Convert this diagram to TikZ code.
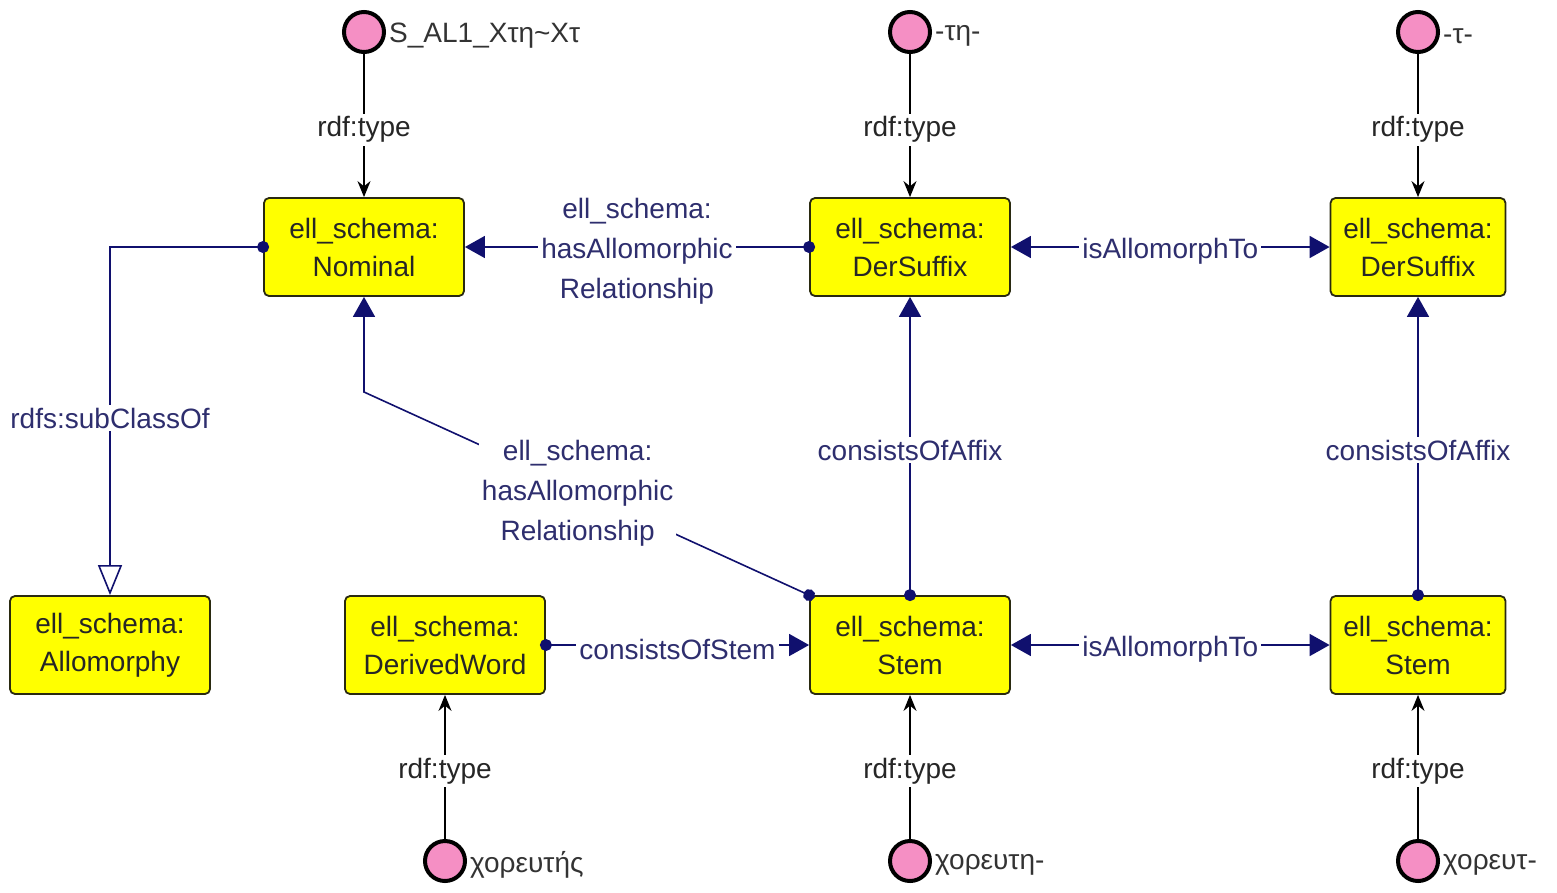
\documentclass[tikz,border=0pt]{standalone}
\usepackage{fontspec}
\setmainfont{Liberation Sans}
\usetikzlibrary{arrows.meta}
\definecolor{clsyellow}{HTML}{FFFF00}
\definecolor{clsborder}{HTML}{2A2A10}
\definecolor{propnavy}{HTML}{10106E}
\definecolor{proptext}{HTML}{2E2E6E}
\definecolor{indpink}{HTML}{F58FC4}
\tikzset{
  cls/.style={draw=clsborder, fill=clsyellow, rounded corners=5pt, line width=1.8pt,
    minimum width=200pt, minimum height=98pt, align=center, inner sep=2pt,
    text=black!85, font=\fontsize{28}{38}\selectfont},
  ind/.style={circle, draw=black, fill=indpink, line width=4pt, minimum size=40pt, inner sep=0pt},
  indlbl/.style={anchor=west, inner sep=3pt, yshift=-4pt, text=black!80, font=\fontsize{28}{34}\selectfont},
  typeedge/.style={draw=black, line width=1.6pt, -{Stealth[length=16pt,width=13pt]}},
  typelbl/.style={fill=white, inner sep=3pt, yshift=-4pt, text=black!85, font=\fontsize{28}{34}\selectfont},
  prop/.style={draw=propnavy, line width=1.6pt},
  dotarrow/.style={prop, shorten <=-6pt,
    {Circle[length=12pt]}-{Triangle[length=20pt,width=22pt]}},
  twoarrow/.style={prop, {Triangle[length=20pt,width=22pt]}-{Triangle[length=20pt,width=22pt]}},
  plbl/.style={fill=white, inner sep=3pt, yshift=-4pt, align=center, text=proptext,
    font=\fontsize{28}{40}\selectfont},
}
\begin{document}
\begin{tikzpicture}[x=1pt,y=-1pt]
\useasboundingbox (0,0) rectangle (1557,892);

% classes
\node[cls] (nominal) at (364,247) {ell\_schema:\\Nominal};
\node[cls] (dersuf1) at (910,247) {ell\_schema:\\DerSuffix};
\node[cls, minimum width=175pt] (dersuf2) at (1418,247) {ell\_schema:\\DerSuffix};
\node[cls] (allom) at (110,645) {ell\_schema:\\Allomorphy};
\node[cls] (derword) at (445,645) {ell\_schema:\\DerivedWord};
\node[cls] (stem1) at (910,645) {ell\_schema:\\Stem};
\node[cls, minimum width=175pt] (stem2) at (1418,645) {ell\_schema:\\Stem};

% individuals
\node[ind] (ial) at (364,32) {};
\node[indlbl] (ialname) at (ial.east) {S\_AL1\_Xτη\textasciitilde Xτ};
\node[ind] (itn) at (910,32) {};
\node[indlbl] (itnname) at (itn.east) {-τη-};
\node[ind] (it) at (1418,32) {};
\node[indlbl] (itname) at (it.east) {-τ-};
\node[ind] (iword) at (445,861) {};
\node[indlbl] (iwordname) at (iword.east) {χορευτής};
\node[ind] (istem1) at (910,861) {};
\node[indlbl] (istem1name) at (istem1.east) {χορευτη-};
\node[ind] (istem2) at (1418,861) {};
\node[indlbl] (istem2name) at (istem2.east) {χορευτ-};

% rdf:type links
\draw[typeedge] (ial) -- node[typelbl] {rdf:type} (nominal);
\draw[typeedge] (itn) -- node[typelbl] {rdf:type} (dersuf1);
\draw[typeedge] (it) -- node[typelbl] {rdf:type} (dersuf2);
\draw[typeedge] (iword) -- node[typelbl] {rdf:type} (derword);
\draw[typeedge] (istem1) -- node[typelbl] {rdf:type} (stem1);
\draw[typeedge] (istem2) -- node[typelbl] {rdf:type} (stem2);

% subclass link
\draw[prop, shorten <=-6pt, {Circle[length=12pt]}-{Triangle[open, fill=white, length=30pt, width=24pt]}]
  (nominal.west) -| node[plbl, pos=0.74] {rdfs:subClassOf} (allom.north);

% object properties
\draw[dotarrow] (dersuf1) -- node[plbl] {ell\_schema:\\hasAllomorphic\\Relationship} (nominal);
\draw[twoarrow] (dersuf1) -- node[plbl] {isAllomorphTo} (dersuf2);
\draw[twoarrow] (stem1) -- node[plbl] {isAllomorphTo} (stem2);
\draw[dotarrow] (stem1) -- node[plbl] {consistsOfAffix} (dersuf1);
\draw[dotarrow] (stem2) -- node[plbl] {consistsOfAffix} (dersuf2);
\draw[dotarrow] (derword) -- node[plbl] {consistsOfStem} (stem1);
\coordinate (bend) at (364,392);
\draw[dotarrow] (stem1.north west) -- node[plbl, pos=0.52] {ell\_schema:\\hasAllomorphic\\Relationship} (bend) -- (nominal.south);
\end{tikzpicture}
\end{document}
